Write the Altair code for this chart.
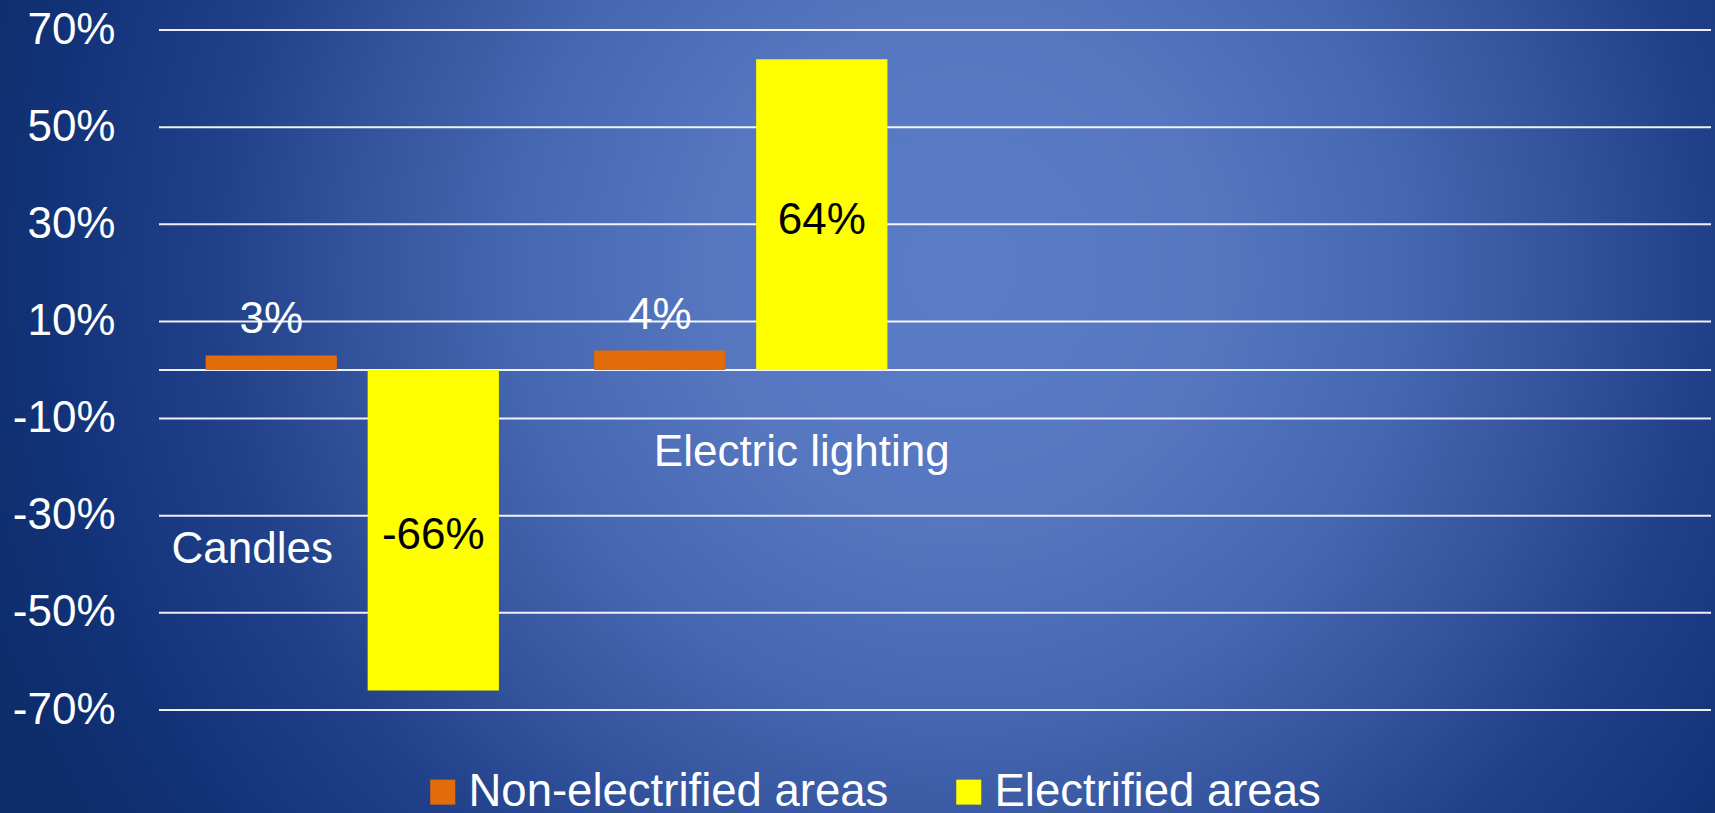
import altair as alt
import pandas as pd

# Four category slots on the x axis; the last two are left empty
categories = ["Candles", "Electric lighting"]
slots = ["Candles", "Electric lighting", " ", "  "]
series = ["Non-electrified areas", "Electrified areas"]
non_electrified = [0.03, 0.04]
electrified = [-0.66, 0.64]
y_ticks = [-0.7, -0.5, -0.3, -0.1, 0.1, 0.3, 0.5, 0.7]
series_colors = ["#E36C0A", "#FFFF00"]

FONT = "Liberation Sans"
W, H = 1552, 680
PAD = {"left": 159, "top": 30, "right": 1715 - 159 - W, "bottom": 813 - 30 - H}

rows = []
for i, cat in enumerate(categories):
    rows.append({"category": cat, "series": series[0], "value": non_electrified[i]})
    rows.append({"category": cat, "series": series[1], "value": electrified[i]})
df = pd.DataFrame(rows)
df["label"] = [f"{round(v * 100)}%" for v in df["value"]]
df["mid"] = df["value"] / 2

y_scale = alt.Scale(domain=[-0.7, 0.7], nice=False, zero=False)
y_axis = alt.Axis(
    values=y_ticks, labelExpr="round(datum.value * 100) + '%'",
    grid=False, domain=False, ticks=False, title=None,
    labelFontSize=44, labelColor="white", labelFont=FONT,
    labelPadding=44, zindex=1,
)
x_enc = alt.X("category:N", scale=alt.Scale(domain=slots, paddingInner=0.245, paddingOuter=0.12), axis=None)
xo_enc = alt.XOffset("series:N", scale=alt.Scale(domain=series, paddingInner=0.19, paddingOuter=0))

# radial backdrop covering the whole canvas
backdrop = alt.RadialGradient(
    gradient="radial",
    x1=0.56, y1=0.42, r1=0,
    x2=0.56, y2=0.42, r2=0.612,
    stops=[
        alt.GradientStop(offset=0.0, color="#5b7dc7"),
        alt.GradientStop(offset=0.24, color="#5676c0"),
        alt.GradientStop(offset=0.43, color="#4566b0"),
        alt.GradientStop(offset=0.57, color="#34559d"),
        alt.GradientStop(offset=0.71, color="#20418a"),
        alt.GradientStop(offset=0.86, color="#13337a"),
        alt.GradientStop(offset=1.0, color="#0d2c69"),
    ],
)
bg = alt.Chart(pd.DataFrame({"k": [0]})).mark_rect(fill=backdrop, strokeWidth=0).encode(
    x=alt.value(-PAD["left"]), x2=alt.value(W + PAD["right"]),
    y=alt.value(-PAD["top"]), y2=alt.value(H + PAD["bottom"]),
)

# horizontal gridlines plus the zero line
grid = alt.Chart(pd.DataFrame({"value": y_ticks + [0.0]})).mark_rule(
    color="white", strokeWidth=2, opacity=0.92
).encode(y=alt.Y("value:Q", scale=y_scale, axis=y_axis))

bars = alt.Chart(df).mark_bar().encode(
    x=x_enc,
    xOffset=xo_enc,
    y=alt.Y("value:Q", scale=y_scale, axis=y_axis),
    color=alt.Color(
        "series:N", scale=alt.Scale(domain=series, range=series_colors),
        legend=alt.Legend(
            orient="none", legendX=261, legendY=739, direction="horizontal",
            title=None, symbolType="square", symbolSize=625, symbolStrokeWidth=0,
            symbolOpacity=1, labelFontSize=45.5, labelColor="white", labelFont=FONT,
            labelOffset=3, columnPadding=57, labelLimit=1000, zindex=1,
        ),
    ),
)

# value labels: above the small orange bars, centred inside the yellow bars
above = alt.Chart(df).transform_filter(alt.datum.series == series[0]).mark_text(
    font=FONT, fontSize=44, color="white", baseline="alphabetic", dy=-22
).encode(x=x_enc, xOffset=xo_enc, y=alt.Y("value:Q", scale=y_scale, axis=y_axis), text="label:N")

inside = alt.Chart(df).transform_filter(alt.datum.series == series[1]).mark_text(
    font=FONT, fontSize=44, color="black", baseline="middle", dy=6
).encode(x=x_enc, xOffset=xo_enc, y=alt.Y("mid:Q", scale=y_scale, axis=y_axis), text="label:N")

# category names
cat1 = alt.Chart(pd.DataFrame({"category": [categories[0]]})).mark_text(
    font=FONT, fontSize=44, color="white", baseline="middle", dx=-100
).encode(x=x_enc, y=alt.datum(-0.37, scale=y_scale), text="category:N")
cat2 = alt.Chart(pd.DataFrame({"category": [categories[1]]})).mark_text(
    font=FONT, fontSize=44, color="white", baseline="middle", dx=61
).encode(x=x_enc, y=alt.datum(-0.17, scale=y_scale), text="category:N")

chart = alt.layer(bg, grid, bars, above, inside, cat1, cat2).properties(
    width=W, height=H,
    autosize=alt.AutoSizeParams(type="none"),
    padding=PAD,
    background="#0e2d6b",
).configure_view(stroke=None)

chart.save("out.html", embed_options={"renderer": "svg", "actions": False})
